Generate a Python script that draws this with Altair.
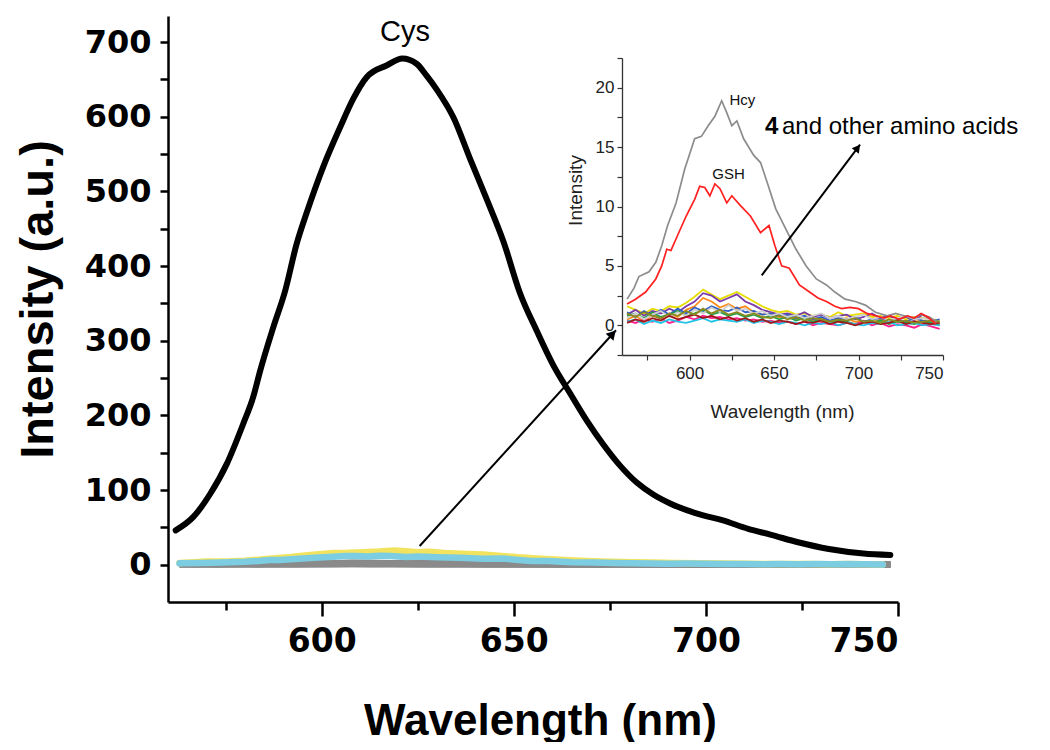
import math
import altair as alt
import pandas as pd

# ---------------- data ----------------
# Main panel: Cys spectrum
cys_wl = [562, 566.6, 571, 575.3, 579.6, 582.2, 584, 587.4, 590.5, 593.5,
          596, 600.4, 604.8, 608.2, 611.7, 617, 621, 624.7, 627.3, 630,
          634.3, 638.6, 643, 647.3, 651.6, 656, 660.3, 664.6, 669, 673.3,
          677.6, 682, 686.3, 690.7, 695, 699.3, 704, 711, 717, 724,
          732, 741, 748]
cys_val = [46, 64, 95, 135, 189, 225, 260, 318, 367, 430,
           470, 533, 586, 624, 653, 669, 678, 671, 655, 636,
           599, 544, 489, 433, 364, 313, 267, 230, 193, 161,
           133, 110, 94, 82, 73, 66, 60, 48, 40, 30,
           21, 15, 13]

# Hcy spectrum
hcy_wl = [563, 567, 570, 576, 580, 583.5, 587, 592, 597, 603,
          607, 611, 615, 619, 622, 625, 628, 632, 638, 642,
          646, 651, 657, 663, 669, 675, 681, 686, 692, 698,
          704, 710, 717, 722, 727, 732, 737, 742, 746]
hcy_val = [2.2, 3.1, 4.1, 4.5, 5.3, 6.7, 8.4, 10.3, 13.1, 15.7,
           15.9, 16.8, 17.6, 18.9, 17.9, 16.8, 17.2, 15.7, 14.3, 13.7,
           12.0, 9.8, 8.1, 6.4, 5.0, 3.9, 3.4, 2.8, 2.2, 2.0,
           1.7, 1.1, 0.8, 1.0, 0.8, 0.6, 0.9, 0.7, 0.3]

# GSH spectrum
gsh_wl = [563, 568, 574, 580, 583.5, 586.5, 589, 593, 598, 603,
          606, 609, 612, 615, 618, 622, 625, 630, 636, 642,
          647, 650.5, 654.5, 659, 665, 671, 676, 681, 686, 690,
          695, 700, 705, 710, 715, 719, 724, 729, 733, 737,
          741, 746]
gsh_val = [1.8, 2.2, 2.8, 3.9, 5.0, 6.4, 6.3, 7.6, 9.2, 10.6,
           11.7, 11.6, 10.9, 11.9, 11.5, 10.3, 10.9, 10.1, 9.2, 7.8,
           8.4, 6.7, 5.0, 4.8, 3.4, 2.8, 2.3, 2.0, 1.6, 1.4,
           1.5, 1.4, 1.0, 0.8, 0.6, 0.8, 0.5, 0.8, 0.6, 1.0,
           0.7, 0.1]

# Probe 4 and other amino acids (low-level spectra)
other_wl = [563, 568, 573, 578, 583, 588, 593, 598, 603, 608,
            613, 618, 623, 628, 633, 638, 643, 648, 653, 658,
            663, 668, 673, 678, 683, 688, 693, 698, 703, 708,
            713, 718, 723, 728, 733, 738, 743, 748]
other_names = ["s1", "s2", "s3", "s4", "s5", "s6", "s7", "s8", "s9", "s10"]
other_colors = ["#e6dc00", "#7a3aa8", "#ff8a1a", "#2f5fc4", "#22a04a",
                "#ff1f8f", "#22c4e6", "#cfcfcf", "#a01818", "#8a8a20"]
other_vals = [
    [1.6, 1.3, 1.0, 1.4, 1.2, 1.6, 1.5, 1.9, 2.4, 3.0, 2.6, 2.2, 2.5, 2.8, 2.4, 2.0, 1.6, 1.3, 1.1, 1.2,
     0.9, 1.0, 0.8, 0.9, 0.7, 1.1, 0.8, 0.9, 1.0, 0.7, 0.8, 0.6, 0.8, 0.5, 0.7, 0.6, 0.5, 0.4],
    [0.9, 1.3, 0.8, 1.2, 1.0, 1.4, 1.1, 1.6, 2.0, 2.7, 2.5, 2.0, 2.3, 2.6, 2.0, 1.7, 1.3, 1.1, 0.9, 1.0,
     0.8, 1.1, 0.7, 0.9, 0.6, 0.8, 0.9, 0.5, 0.7, 1.0, 0.6, 0.8, 0.5, 0.7, 0.4, 0.9, 0.5, 0.2],
    [0.5, 0.8, 0.3, 0.9, 0.6, 1.0, 0.7, 1.3, 1.6, 2.3, 2.0, 1.5, 1.8, 1.4, 1.6, 1.1, 0.9, 1.0, 0.7, 0.8,
     0.5, 0.7, 0.4, 0.6, 0.3, 0.5, 0.6, 0.3, 0.4, 0.2, 0.5, 0.3, 0.4, 0.2, 0.3, 0.4, 0.2, 0.1],
    [1.1, 0.7, 1.2, 0.8, 1.3, 0.9, 1.4, 1.0, 1.5, 1.2, 1.6, 1.3, 1.2, 1.5, 1.1, 1.2, 0.9, 1.0, 0.8, 0.9,
     0.6, 0.8, 0.5, 0.7, 0.4, 0.6, 0.5, 0.7, 0.3, 0.5, 0.6, 0.4, 0.5, 0.3, 0.6, 0.4, 0.3, 0.5],
    [0.8, 1.0, 0.6, 1.1, 0.7, 0.9, 1.2, 0.8, 1.0, 1.3, 0.9, 1.1, 0.8, 1.0, 0.7, 0.9, 0.6, 0.8, 0.5, 0.7,
     0.4, 0.6, 0.3, 0.5, 0.2, 0.4, 0.3, 0.1, 0.3, 0.2, 0.4, 0.1, 0.3, 0.2, 0.1, 0.3, 0.2, 0.0],
    [0.4, 0.2, 0.5, 0.3, 0.6, 0.2, 0.4, 0.7, 0.5, 0.8, 0.6, 0.7, 0.5, 0.6, 0.4, 0.5, 0.3, 0.4, 0.2, 0.3,
     0.1, 0.3, 0.0, 0.2, 0.1, 0.0, 0.2, 0.1, 0.3, 0.0, 0.2, -0.1, 0.1, 0.0, -0.2, 0.1, -0.1, -0.3],
    [0.3, 0.5, 0.1, 0.4, 0.2, 0.5, 0.3, 0.2, 0.4, 0.6, 0.3, 0.5, 0.4, 0.3, 0.5, 0.2, 0.4, 0.3, 0.1, 0.3,
     0.2, 0.0, 0.2, 0.1, 0.3, 0.0, 0.2, 0.1, 0.0, 0.2, 0.1, 0.3, 0.0, 0.1, 0.2, 0.0, 0.1, 0.0],
    [0.6, 1.0, 0.5, 0.9, 1.2, 0.7, 1.1, 0.8, 1.3, 1.0, 1.5, 1.1, 1.7, 1.2, 1.4, 1.0, 1.2, 0.8, 1.0, 0.7,
     0.9, 0.6, 0.8, 1.0, 0.6, 0.8, 0.5, 0.7, 0.9, 0.5, 0.7, 0.4, 0.6, 0.8, 0.5, 0.6, 0.4, 0.3],
    [0.2, 0.5, 0.3, 0.6, 0.4, 0.8, 0.5, 0.7, 0.9, 0.6, 0.8, 0.5, 0.7, 0.4, 0.6, 0.3, 0.5, 0.2, 0.4, 0.3,
     0.1, 0.3, 0.2, 0.4, 0.1, 0.3, 0.2, 0.0, 0.2, 0.3, 0.1, 0.2, 0.4, 0.1, 0.3, 0.2, 0.1, 0.2],
    [1.0, 0.7, 1.1, 0.8, 0.6, 1.0, 0.8, 1.2, 0.9, 1.4, 1.0, 1.3, 0.9, 1.1, 0.8, 1.0, 0.7, 0.6, 0.8, 0.5,
     0.7, 0.4, 0.6, 0.5, 0.3, 0.5, 0.4, 0.6, 0.3, 0.4, 0.2, 0.5, 0.3, 0.4, 0.2, 0.3, 0.4, 0.3],
]

# Tick values / labels
main_x_ticks = [575, 600, 625, 650, 675, 700, 725, 750]
main_y_ticks = [0, 50, 100, 150, 200, 250, 300, 350, 400, 450, 500, 550, 600, 650, 700]
inset_x_ticks = [575, 600, 625, 650, 675, 700, 725, 750]
inset_y_ticks = [-2.5, 0, 2.5, 5, 7.5, 10, 12.5, 15, 17.5, 20, 22.5]

# ---------------- layout ----------------
W, H = 730, 586
MAIN_X = [560, 750]
MAIN_Y = [-50, 735]
IN_X = [560, 750]
IN_Y = [-2.5, 22.5]
IN_XR = [454, 775]
IN_YR = [339, 42]
FONT = "Liberation Sans"
TICKFONT = "DejaVu Sans"

# ---------------- frames ----------------
cys_df = pd.DataFrame({"wl": cys_wl, "val": cys_val})
hcy_df = pd.DataFrame({"wl": hcy_wl, "val": hcy_val})
gsh_df = pd.DataFrame({"wl": gsh_wl, "val": gsh_val})
rows = []
for name, vals in zip(other_names, other_vals):
    for w, v in zip(other_wl, vals):
        rows.append({"wl": w, "val": v, "series": name})
oth_df = pd.DataFrame(rows)


def arrow(x0, y0, x1, y1, kx, ky, back):
    dx = (x1 - x0) * kx
    dy = (y1 - y0) * ky
    L = math.hypot(dx, dy)
    ang = math.degrees(math.atan2(dx, dy))
    hx = x1 - back * dx / L / kx
    hy = y1 - back * dy / L / ky
    line = pd.DataFrame({"wl": [x0], "val": [y0], "wl2": [x1], "val2": [y1]})
    head = pd.DataFrame({"wl": [hx], "val": [hy]})
    return line, head, ang


kx_m = W / (MAIN_X[1] - MAIN_X[0])
ky_m = H / (MAIN_Y[1] - MAIN_Y[0])
kx_i = (IN_XR[1] - IN_XR[0]) / (IN_X[1] - IN_X[0])
ky_i = (IN_YR[0] - IN_YR[1]) / (IN_Y[1] - IN_Y[0])

m_line, m_head, m_ang = arrow(625.5, 25, 676.6, 314, kx_m, ky_m, 5)
i_line, i_head, i_ang = arrow(642.7, 4.2, 700.9, 15.2, kx_i, ky_i, 4)

# ---------------- main panel ----------------
xs_m = alt.Scale(domain=MAIN_X, nice=False, zero=False)
ys_m = alt.Scale(domain=MAIN_Y, nice=False, zero=False)

x_axis_m = alt.Axis(
    values=main_x_ticks, orient="bottom",
    labelExpr="datum.value % 50 === 0 ? datum.label : ''",
    labelFont=TICKFONT, labelFontSize=33, labelFontWeight="bold", labelColor="black",
    labelPadding=9,
    tickSize={"condition": {"test": "datum.value % 50 === 0", "value": 14}, "value": 8},
    tickWidth=2.5, tickColor="black", domainWidth=2.5, domainColor="black",
    grid=False, title="Wavelength (nm)",
    titleFont=FONT, titleFontSize=44, titleFontWeight="bold", titleColor="black",
    titleX=372, titleY=132, titleBaseline="alphabetic", titleAlign="center",
)
y_axis_m = alt.Axis(
    values=main_y_ticks, orient="left",
    labelExpr="datum.value % 100 === 0 ? datum.label : ''",
    labelFont=TICKFONT, labelFontSize=32, labelFontWeight="bold", labelColor="black",
    labelPadding=9, tickSize=8, tickWidth=2.5, tickColor="black",
    domainWidth=2.5, domainColor="black", grid=False,
    title="Intensity (a.u.)",
    titleFont=FONT, titleFontSize=47, titleFontWeight="bold", titleColor="black",
    titleX=-130, titleY=283, titleAngle=-90, titleAlign="center", titleBaseline="middle",
)

X_M = alt.X("wl:Q", scale=xs_m, axis=x_axis_m)
Y_M = alt.Y("val:Q", scale=ys_m, axis=y_axis_m)

m_others = alt.Chart(oth_df).mark_line(strokeWidth=6, color="#8a8a8a").encode(
    x=X_M, y=Y_M, detail="series:N")
m_hcy = alt.Chart(hcy_df).mark_line(strokeWidth=6.5, color="#f2e35e", strokeCap="round").encode(x=X_M, y=Y_M)
m_gsh = alt.Chart(gsh_df).mark_line(strokeWidth=6.5, color="#7ccde2", strokeCap="round").encode(x=X_M, y=Y_M)
m_cys = alt.Chart(cys_df).mark_line(strokeWidth=6, color="black", strokeCap="round",
                                    strokeJoin="round", interpolate="monotone").encode(x=X_M, y=Y_M)
m_arrow = alt.Chart(m_line).mark_rule(strokeWidth=2, color="black").encode(
    x=X_M, y=Y_M, x2="wl2:Q", y2="val2:Q")
m_arrow_head = alt.Chart(m_head).mark_point(
    shape="triangle-up", filled=True, size=110, color="black", opacity=1, angle=m_ang
).encode(x=X_M, y=Y_M)
m_text = alt.Chart(pd.DataFrame({"wl": [621.7], "val": [714], "t": ["Cys"]})).mark_text(
    font=FONT, fontSize=29, color="black", baseline="middle", align="center"
).encode(x=X_M, y=Y_M, text="t:N")

main = alt.layer(m_others, m_hcy, m_gsh, m_cys, m_arrow, m_arrow_head, m_text)

# ---------------- inset panel ----------------
xs_i = alt.Scale(domain=IN_X, range=IN_XR, nice=False, zero=False)
ys_i = alt.Scale(domain=IN_Y, range=IN_YR, nice=False, zero=False)

x_axis_i = alt.Axis(
    values=inset_x_ticks, orient="bottom", offset=IN_YR[0] - H,
    labelExpr="datum.value % 50 === 0 ? datum.label : ''",
    labelFont=FONT, labelFontSize=17, labelColor="#222222", labelPadding=5,
    tickSize=5, tickWidth=1.2, tickColor="#333333",
    domainWidth=1.3, domainColor="#333333", grid=False,
    title="Wavelength (nm)", titleFont=FONT, titleFontSize=19, titleFontWeight="normal",
    titleColor="#222222", titleX=614, titleY=62, titleBaseline="alphabetic", titleAlign="center",
)
y_axis_i = alt.Axis(
    values=inset_y_ticks, orient="left", offset=-IN_XR[0],
    labelExpr="datum.value % 5 === 0 ? datum.label : ''",
    labelFont=FONT, labelFontSize=17, labelColor="#222222", labelPadding=3,
    tickSize=5, tickWidth=1.2, tickColor="#333333",
    domainWidth=1.3, domainColor="#333333", grid=False,
    title="Intensity", titleFont=FONT, titleFontSize=19, titleFontWeight="normal",
    titleColor="#222222", titleX=-47, titleY=174, titleAngle=-90,
    titleAlign="center", titleBaseline="middle",
)

X_I = alt.X("wl:Q", scale=xs_i, axis=x_axis_i)
Y_I = alt.Y("val:Q", scale=ys_i, axis=y_axis_i)

i_others = alt.Chart(oth_df).mark_line(strokeWidth=1.8).encode(
    x=X_I, y=Y_I,
    color=alt.Color("series:N", scale=alt.Scale(domain=other_names, range=other_colors), legend=None),
)
i_hcy = alt.Chart(hcy_df).mark_line(strokeWidth=1.7, color="#8c8c8c").encode(x=X_I, y=Y_I)
i_gsh = alt.Chart(gsh_df).mark_line(strokeWidth=1.7, color="#ff2020").encode(x=X_I, y=Y_I)
i_arrow = alt.Chart(i_line).mark_rule(strokeWidth=2, color="black").encode(
    x=X_I, y=Y_I, x2="wl2:Q", y2="val2:Q")
i_arrow_head = alt.Chart(i_head).mark_point(
    shape="triangle-up", filled=True, size=80, color="black", opacity=1, angle=i_ang
).encode(x=X_I, y=Y_I)

lbl_df = pd.DataFrame({"wl": [631.3, 623.1], "val": [19.0, 12.7], "t": ["Hcy", "GSH"]})
i_labels = alt.Chart(lbl_df).mark_text(
    font=FONT, fontSize=15, color="#111111", align="center", baseline="middle"
).encode(x=X_I, y=Y_I, text="t:N")
i_four = alt.Chart(pd.DataFrame({"wl": [644.6], "val": [16.7], "t": ["4"]})).mark_text(
    font=FONT, fontSize=24, fontWeight="bold", color="black", align="left", baseline="middle"
).encode(x=X_I, y=Y_I, text="t:N")
i_rest = alt.Chart(pd.DataFrame({"wl": [654.7], "val": [16.7], "t": ["and other amino acids"]})).mark_text(
    font=FONT, fontSize=24, color="black", align="left", baseline="middle"
).encode(x=X_I, y=Y_I, text="t:N")

inset = alt.layer(i_others, i_hcy, i_gsh, i_arrow, i_arrow_head, i_labels, i_four, i_rest)

chart = alt.layer(main, inset).resolve_scale(
    x="independent", y="independent", color="independent"
).properties(
    width=W, height=H,
    autosize=alt.AutoSizeParams(type="none"),
    padding={"left": 160, "top": 8, "right": 140, "bottom": 140},
    background="white",
).configure_view(stroke=None)

chart.save("out.html", embed_options={"renderer": "svg", "actions": False})
